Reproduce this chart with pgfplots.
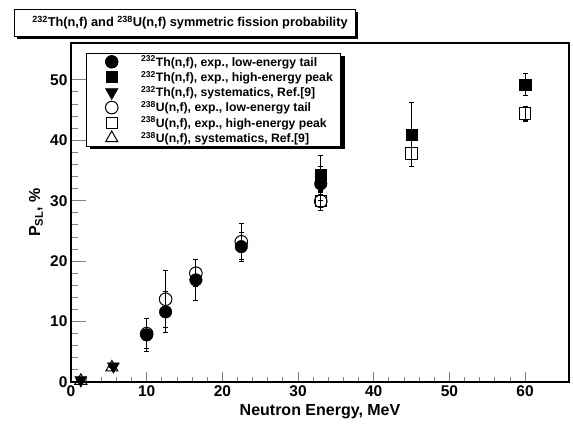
\documentclass[border=0pt]{standalone}
\usepackage{fontspec}
\setmainfont{Liberation Sans}
\usepackage{pgfplots}
\pgfplotsset{compat=1.18}
\usetikzlibrary{shadows}

\begin{document}
\begin{tikzpicture}[x=1pt,y=1pt]
\path[use as bounding box] (0,0) rectangle (573,424);
% title box with shadow
\fill[black] (17,385) rectangle (358,412);
\draw[fill=white, line width=0.8pt] (14,388) rectangle (355,415);
\node[font=\bfseries\fontsize{12.8}{14}\selectfont] at (190,401.5)
  {\textsuperscript{232}Th(n,f) and \textsuperscript{238}U(n,f) symmetric fission probability};

\begin{axis}[
  at={(71pt,42pt)}, anchor=south west, scale only axis,
  width=498pt, height=339pt,
  xmin=0, xmax=65.8, ymin=0, ymax=56.1,
  axis line style={line width=1.5pt},
  tick pos=left, tick align=inside,
  xtick={0,10,...,60}, ytick={0,10,...,50},
  minor x tick num=4, minor y tick num=4,
  major tick style={line width=0.9pt}, minor tick style={line width=0.9pt},
  x tick style={/pgfplots/major tick length=10pt, /pgfplots/minor tick length=5pt},
  y tick style={/pgfplots/major tick length=15pt, /pgfplots/minor tick length=7pt},
  /pgf/number format/assume math mode=true,
  ticklabel style={font=\bfseries\fontsize{15.5}{16}\selectfont},
  xlabel={Neutron Energy, MeV},
  ylabel={P\textsubscript{SL}, \%},
  label style={font=\bfseries\fontsize{16}{16}\selectfont},
  xlabel style={at={(axis description cs:0.5,-0.0885)}, anchor=center},
  ylabel style={at={(axis description cs:-0.0703,0.5)}, anchor=center},
  error bars/y dir=both, error bars/y explicit,
  error bars/error bar style={line width=1.1pt},
  error bars/error mark options={mark size=2.5pt, line width=1.1pt, rotate=90},
  legend cell align=left,
  legend image code/.code={\path (-18pt,0pt) (18pt,0pt); \draw[#1] plot coordinates {(0pt,0pt)};},
  legend style={at={(axis description cs:0.030,0.9705)}, anchor=north west,
    draw=black, line width=0.8pt, fill=white,
    font=\bfseries\fontsize{12.2}{14}\selectfont, row sep=1.4pt,
    nodes={inner sep=1pt},
    inner xsep=7pt, inner ysep=1.5pt,
    general shadow={fill=black, shadow xshift=4pt, shadow yshift=-3pt},
    /tikz/every odd column/.append style={column sep=10pt}},
]
% 232Th low-energy tail
\addplot[only marks, mark=*, mark size=6.3pt, mark options={fill=black, draw=black}]
  coordinates {(10,7.8) +- (0,2.7) (12.5,11.6) +- (0,3.4) (16.5,16.9) +- (0,3.4)
               (22.5,22.4) +- (0,2.4) (33,32.8) +- (0,2.8)};
\addlegendentry{\textsuperscript{232}Th(n,f), exp., low-energy tail}
% 232Th high-energy peak
\addplot[only marks, mark=square*, mark size=5.7pt, mark options={fill=black, draw=black}]
  coordinates {(33,34.3) +- (0,3.2) (45,40.9) +- (0,5.3) (60,49.2) +- (0,1.8)};
\addlegendentry{\textsuperscript{232}Th(n,f), exp., high-energy peak}
% 232Th systematics
\addplot[only marks, mark=triangle*, mark size=7pt, mark options={fill=black, draw=black, rotate=180}]
  coordinates {(1.3,0.3) +- (0,0) (5.6,2.6) +- (0,0)};
\addlegendentry{\textsuperscript{232}Th(n,f), systematics, Ref.[9]}
% 238U low-energy tail
\addplot[only marks, mark=o, mark size=6.3pt, mark options={draw=black, line width=1pt}]
  coordinates {(10,8.0) +- (0,2.5) (12.5,13.7) +- (0,4.7) (16.5,18.0) +- (0,2.2)
               (22.5,23.2) +- (0,3.0) (33,29.9) +- (0,1.5)};
\addlegendentry{\textsuperscript{238}U(n,f), exp., low-energy tail}
% 238U high-energy peak
\addplot[only marks, mark=square, mark size=5.7pt, mark options={draw=black, line width=1pt}]
  coordinates {(33,30.0) +- (0,1.6) (45,37.8) +- (0,2.2) (60,44.4) +- (0,1.2)};
\addlegendentry{\textsuperscript{238}U(n,f), exp., high-energy peak}
% 238U systematics
\addplot[only marks, mark=triangle, mark size=7pt, mark options={draw=black, line width=1pt}]
  coordinates {(1.3,0.2) +- (0,0) (5.4,2.4) +- (0,0)};
\addlegendentry{\textsuperscript{238}U(n,f), systematics, Ref.[9]}
\end{axis}
\end{tikzpicture}
\end{document}
